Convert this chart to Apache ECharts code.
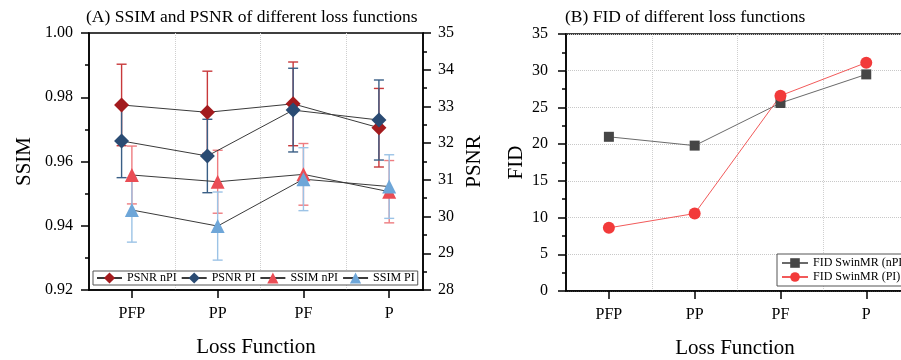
<!DOCTYPE html>
<html>
<head>
<meta charset="utf-8">
<script src="https://cdn.jsdelivr.net/npm/echarts@6/dist/echarts.min.js"></script>
<style>
  html, body { margin: 0; padding: 0; background: #fff; }
  #chart { width: 901px; height: 360px; }
</style>
</head>
<body>
<div id="chart"></div>
<script>
const categories = ["PFP", "PP", "PF", "P"];

// (A) PSNR on the right axis, SSIM on the left axis
const psnrNpi = [33.04, 32.84, 33.07, 32.42];
const psnrNpiErr = [1.11, 1.12, 1.14, 1.07];
const psnrPi = [32.06, 31.65, 32.9, 32.63];
const psnrPiErr = [1.0, 1.0, 1.14, 1.09];
const ssimNpi = [0.9558, 0.9537, 0.956, 0.9506];
const ssimNpiErr = [0.009, 0.0098, 0.0096, 0.0097];
const ssimPi = [0.9449, 0.9399, 0.9545, 0.9522];
const ssimPiErr = [0.01, 0.0106, 0.0098, 0.0099];

// (B) FID
const fidNpi = [21.0, 19.8, 25.6, 29.5];
const fidPi = [8.6, 10.55, 26.6, 31.1];

const font = "Liberation Serif";
const psnrShift = -0.12; // PSNR markers sit a little left of the category

const catPos = categories.map((_, i) => i + 1);
const gridPos = categories.slice(1).map((_, i) => i + 1.5);

const points = (vals, shift) => vals.map((v, i) => [i + 1 + shift, v]);
const bars = (vals, errs, shift) => vals.map((v, i) => [i + 1 + shift, v - errs[i], v + errs[i]]);

function errorBar(params, api) {
  const top = api.coord([api.value(0), api.value(2)]);
  const bottom = api.coord([api.value(0), api.value(1)]);
  const half = 5;
  const style = { stroke: api.visual("color"), lineWidth: 1.4 };
  return {
    type: "group",
    children: [
      { type: "line", shape: { x1: top[0], y1: top[1], x2: bottom[0], y2: bottom[1] }, style },
      { type: "line", shape: { x1: top[0] - half, y1: top[1], x2: top[0] + half, y2: top[1] }, style },
      { type: "line", shape: { x1: bottom[0] - half, y1: bottom[1], x2: bottom[0] + half, y2: bottom[1] }, style },
    ],
  };
}

const axisLine = { show: true, lineStyle: { color: "#000", width: 1.5 } };
const tickStyle = { lineStyle: { color: "#000", width: 1.5 } };
const labelStyle = { color: "#000", fontSize: 16, fontFamily: font };
const nameStyle = { color: "#000", fontSize: 21, fontFamily: font };
const gridLine = { show: true, lineStyle: { color: "#c8c8c8", type: "dotted", width: 1 } };
const titleStyle = { fontSize: 17.5, fontWeight: "normal", fontFamily: font, color: "#000" };

function xAxisFor(gridIndex, max) {
  return {
    type: "value",
    gridIndex,
    min: 0.5,
    max,
    axisLine,
    axisTick: { show: true, customValues: catPos, length: 8, ...tickStyle },
    axisLabel: { show: true, customValues: catPos, formatter: (v) => categories[Math.round(v) - 1], margin: 16, ...labelStyle },
    splitLine: { show: false },
    name: "Loss Function",
    nameLocation: "middle",
    nameGap: 47,
    nameTextStyle: nameStyle,
  };
}

function errSeries(data, color, yAxisIndex) {
  return {
    type: "custom",
    xAxisIndex: 0,
    yAxisIndex,
    renderItem: errorBar,
    itemStyle: { color },
    encode: { x: 0, y: [1, 2] },
    data,
    z: 1,
    silent: true,
  };
}

function pointSeries(name, data, color, symbol, size, yAxisIndex) {
  return {
    name,
    type: "line",
    xAxisIndex: 0,
    yAxisIndex,
    data,
    symbol,
    symbolSize: size,
    itemStyle: { color },
    lineStyle: { color: "#3a3a3a", width: 1 },
    z: 3,
  };
}

const chart = echarts.init(document.getElementById("chart"));

chart.setOption({
  backgroundColor: "#fff",
  animation: false,
  title: [
    { text: "(A) SSIM and PSNR of different loss functions", left: 86, top: 8, padding: 0, textStyle: titleStyle },
    { text: "(B) FID of different loss functions", left: 565, top: 8, padding: 0, textStyle: titleStyle },
  ],
  grid: [
    { left: 89, top: 33, width: 334, height: 257, outerBoundsMode: "none", show: true, borderColor: "#000", borderWidth: 1.5, backgroundColor: "transparent" },
    { left: 566, top: 34, width: 338, height: 257, outerBoundsMode: "none", show: true, borderColor: "#000", borderWidth: 1.5, backgroundColor: "transparent" },
  ],
  legend: [
    {
      data: ["PSNR nPI", "PSNR PI", "SSIM nPI", "SSIM PI"],
      left: 93,
      top: 271,
      padding: [1, 3],
      itemGap: 4,
      itemWidth: 25,
      itemHeight: 14,
      borderColor: "#555",
      borderWidth: 1,
      backgroundColor: "#fff",
      textStyle: { fontSize: 12, fontFamily: font, color: "#000" },
    },
    {
      data: ["FID SwinMR (nPI)", "FID SwinMR (PI)"],
      orient: "vertical",
      left: 777,
      top: 254,
      padding: [3, 4],
      itemGap: 2,
      itemWidth: 26,
      itemHeight: 12,
      borderColor: "#555",
      borderWidth: 1,
      backgroundColor: "#fff",
      textStyle: { fontSize: 12, fontFamily: font, color: "#000" },
    },
  ],
  xAxis: [xAxisFor(0, 4.394), xAxisFor(1, 4.44)],
  yAxis: [
    {
      type: "value",
      gridIndex: 0,
      min: 0.92,
      max: 1.0,
      interval: 0.02,
      axisLine,
      axisTick: { show: true, length: 8, ...tickStyle },
      minorTick: { show: true, splitNumber: 2, length: 4, ...tickStyle },
      axisLabel: { formatter: (v) => v.toFixed(2), margin: 16, ...labelStyle },
      splitLine: { show: false },
      name: "SSIM",
      nameLocation: "middle",
      nameGap: 54,
      nameTextStyle: nameStyle,
    },
    {
      type: "value",
      gridIndex: 0,
      position: "right",
      min: 28,
      max: 35,
      interval: 1,
      axisLine,
      axisTick: { show: true, length: 8, ...tickStyle },
      minorTick: { show: true, splitNumber: 2, length: 4, ...tickStyle },
      axisLabel: { margin: 15, ...labelStyle },
      splitLine: { show: false },
      name: "PSNR",
      nameLocation: "middle",
      nameGap: 41,
      nameTextStyle: nameStyle,
    },
    {
      type: "value",
      gridIndex: 1,
      min: 0,
      max: 35,
      interval: 5,
      axisLine,
      axisTick: { show: true, length: 8, ...tickStyle },
      minorTick: { show: true, splitNumber: 2, length: 4, ...tickStyle },
      axisLabel: { margin: 18, ...labelStyle },
      splitLine: gridLine,
      name: "FID",
      nameLocation: "middle",
      nameGap: 39,
      nameTextStyle: nameStyle,
    },
  ],
  series: [
    errSeries(bars(psnrNpi, psnrNpiErr, psnrShift), "#c8393b", 1),
    errSeries(bars(psnrPi, psnrPiErr, psnrShift), "#3a5f86", 1),
    errSeries(bars(ssimNpi, ssimNpiErr, 0), "#ee7c80", 0),
    errSeries(bars(ssimPi, ssimPiErr, 0), "#9cc3e6", 0),
    {
      ...pointSeries("PSNR nPI", points(psnrNpi, psnrShift), "#a31b1e", "diamond", 15, 1),
      markLine: {
        silent: true,
        symbol: "none",
        label: { show: false },
        lineStyle: { color: "#cfcfcf", type: "dotted", width: 1 },
        data: gridPos.map((x) => ({ xAxis: x })),
        z: 0,
      },
    },
    pointSeries("PSNR PI", points(psnrPi, psnrShift), "#2a4b73", "diamond", 15, 1),
    pointSeries("SSIM nPI", points(ssimNpi, 0), "#ea4d55", "triangle", 14, 0),
    pointSeries("SSIM PI", points(ssimPi, 0), "#6ea6d8", "triangle", 14, 0),
    {
      name: "FID SwinMR (nPI)",
      type: "line",
      xAxisIndex: 1,
      yAxisIndex: 2,
      data: points(fidNpi, 0),
      symbol: "rect",
      symbolSize: 10,
      itemStyle: { color: "#464646" },
      lineStyle: { color: "#6a6a6a", width: 1 },
      z: 3,
      markLine: {
        silent: true,
        symbol: "none",
        label: { show: false },
        lineStyle: { color: "#cfcfcf", type: "dotted", width: 1 },
        data: gridPos.map((x) => ({ xAxis: x })),
        z: 0,
      },
    },
    {
      name: "FID SwinMR (PI)",
      type: "line",
      xAxisIndex: 1,
      yAxisIndex: 2,
      data: points(fidPi, 0),
      symbol: "circle",
      symbolSize: 12,
      itemStyle: { color: "#f23a3a" },
      lineStyle: { color: "#f25a5a", width: 1 },
      z: 3,
    },
  ],
});
</script>
</body>
</html>
